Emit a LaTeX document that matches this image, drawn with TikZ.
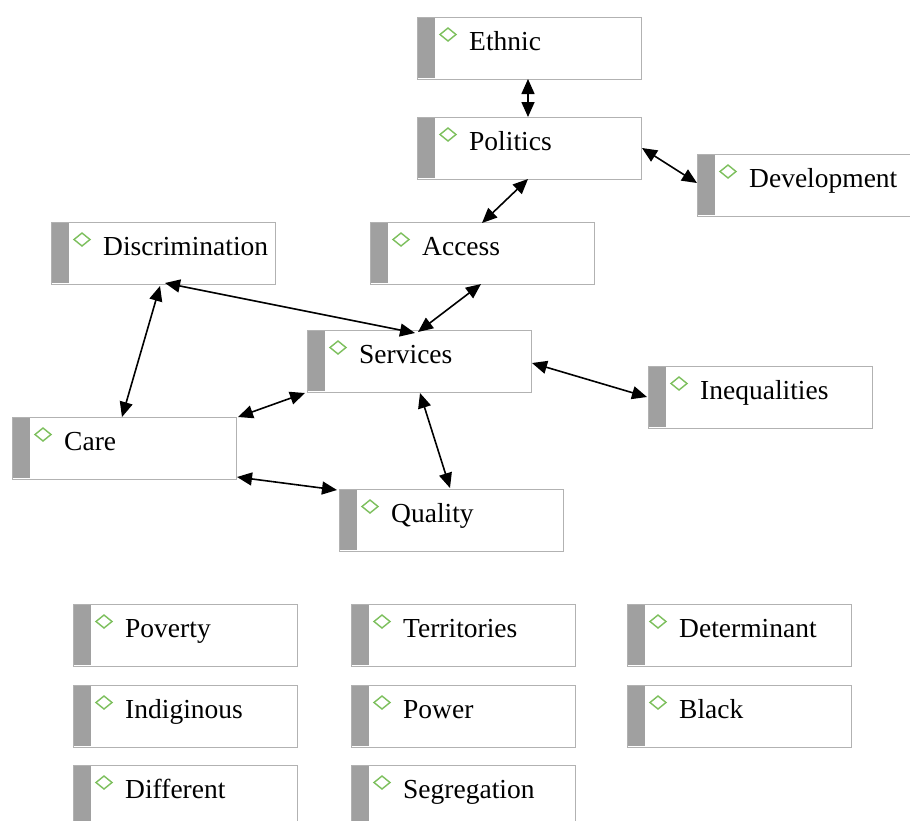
\documentclass[tikz,border=0pt]{standalone}
\usepackage{fontspec}
\setmainfont{Liberation Serif}
\usetikzlibrary{calc,arrows.meta}
\definecolor{boxline}{HTML}{B2B2B2}
\definecolor{bargray}{HTML}{A0A0A0}
\definecolor{diagreen}{HTML}{7CBF5C}
\tikzset{
  cbox/.style={draw=boxline, line width=1.2pt, minimum width=224pt, minimum height=62pt,
    anchor=north west, inner sep=0pt, fill=white},
  ctext/.style={anchor=base west, inner sep=0pt, font=\fontsize{27.5pt}{32pt}\selectfont, text=black},
  biarrow/.style={line width=1.6pt, {Triangle[length=15pt,width=13pt]}-{Triangle[length=15pt,width=13pt]}},
}
\newcommand\conceptbox[4]{%
  \node[cbox] (#1) at (#2,#3) {};
  \fill[bargray] ($(#1.north west)+(0.6,0.6)$) rectangle ($(#1.north west)+(18,61.4)$);
  \draw[diagreen, line width=1.4pt] ($(#1.north west)+(31,11)$) -- ($(#1.north west)+(39,17.5)$)
     -- ($(#1.north west)+(31,24)$) -- ($(#1.north west)+(23,17.5)$) -- cycle;
  \node[ctext] (#1-t) at ($(#1.north west)+(52,33)$) {#4};
}
\begin{document}
\begin{tikzpicture}[x=1pt,y=-1pt]
\clip (0,0) rectangle (910,820);
\fill[white] (0,0) rectangle (910,820);
\conceptbox{eth}{417}{17}{Ethnic}
\conceptbox{pol}{417}{117}{Politics}
\conceptbox{dev}{697}{154}{Development}
\conceptbox{dis}{51}{222}{Discrimination}
\conceptbox{acc}{370}{222}{Access}
\conceptbox{ser}{307}{330}{Services}
\conceptbox{ine}{648}{366}{Inequalities}
\conceptbox{car}{12}{417}{Care}
\conceptbox{qua}{339}{489}{Quality}
\conceptbox{pov}{73}{604}{Poverty}
\conceptbox{ter}{351}{604}{Territories}
\conceptbox{det}{627}{604}{Determinant}
\conceptbox{ind}{73}{685}{Indiginous}
\conceptbox{pow}{351}{685}{Power}
\conceptbox{bla}{627}{685}{Black}
\conceptbox{dif}{73}{765}{Different}
\conceptbox{seg}{351}{765}{Segregation}
% connectors
\draw[biarrow] ($(eth.north west)+(111,62)$) -- ($(pol.north west)+(111,0)$);
\draw[biarrow] ($(pol.north west)+(225,31)$) -- ($(dev.north west)+(0,29)$);
\draw[biarrow] ($(pol.north west)+(111,62)$) -- ($(acc.north west)+(112,1)$);
\draw[biarrow] ($(acc.north west)+(111,62)$) -- ($(ser.north west)+(111,2)$);
\draw[biarrow] ($(dis.north west)+(114,61)$) -- ($(ser.north west)+(108,3)$);
\draw[biarrow] ($(dis.north west)+(109,64)$) -- ($(car.north west)+(110,0)$);
\draw[biarrow] ($(ser.north west)+(-2,63)$) -- ($(car.north west)+(226,0)$);
\draw[biarrow] ($(ser.north west)+(113,63)$) -- ($(qua.north west)+(111,-1)$);
\draw[biarrow] ($(car.north west)+(225,60)$) -- ($(qua.north west)+(-2,1)$);
\draw[biarrow] ($(ser.north west)+(225,33)$) -- ($(ine.north west)+(-1,31)$);
\end{tikzpicture}
\end{document}
